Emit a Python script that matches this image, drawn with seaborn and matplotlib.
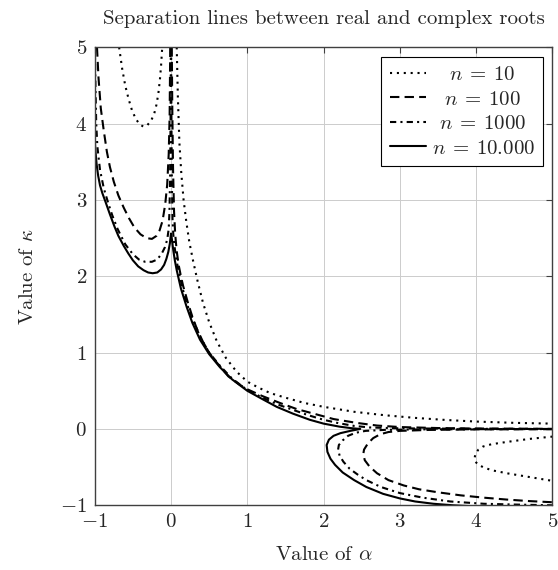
import numpy as np
import pandas as pd
import matplotlib
matplotlib.use("Agg")
import matplotlib.pyplot as plt
import seaborn as sns

# ---------------- data ----------------
# n = 10 (dotted)
n10_a_x = [-0.68, -0.64, -0.6, -0.555, -0.51, -0.46, -0.41, -0.36, -0.31, -0.26, -0.22, -0.19, -0.165, -0.145, -0.13, -0.115]
n10_a_y = [5.0, 4.72, 4.5, 4.32, 4.17, 4.06, 3.99, 3.96, 3.98, 4.04, 4.13, 4.25, 4.4, 4.58, 4.76, 5.0]
n10_b_x = [0.075, 0.09, 0.11, 0.135, 0.165, 0.2, 0.24, 0.29, 0.35, 0.42, 0.5, 0.6, 0.72, 0.86, 1.0, 1.15, 1.3,
           1.5, 1.75, 2.0, 2.4, 2.8, 3.2, 3.6, 4.0, 4.5, 5.0]
n10_b_y = [5.0, 4.35, 3.75, 3.35, 3.0, 2.72, 2.45, 2.2, 1.93, 1.65, 1.4, 1.15, 0.93, 0.75, 0.62, 0.54, 0.47,
           0.41, 0.34, 0.29, 0.225, 0.18, 0.145, 0.118, 0.097, 0.08, 0.07]
n10_c_x = [5.0, 4.7, 4.4, 4.2, 4.09, 4.03, 3.99, 3.98, 3.99, 4.03, 4.09, 4.2, 4.4, 4.7, 5.0]
n10_c_y = [-0.10, -0.13, -0.17, -0.2, -0.23, -0.27, -0.32, -0.38, -0.43, -0.47, -0.5, -0.54, -0.58, -0.63, -0.68]

# n = 100 (dashed)
n100_a_x = [-0.97, -0.95, -0.92, -0.88, -0.84, -0.8, -0.75, -0.69, -0.62, -0.55, -0.48, -0.4, -0.32, -0.25,
            -0.19, -0.15, -0.11, -0.075, -0.05, -0.03, -0.018, -0.01]
n100_a_y = [5.0, 4.6, 4.2, 3.9, 3.63, 3.43, 3.24, 3.06, 2.9, 2.76, 2.64, 2.55, 2.5, 2.49,
            2.53, 2.6, 2.73, 2.95, 3.2, 3.6, 4.1, 5.0]
n100_b_x = [0.01, 0.017, 0.027, 0.04, 0.055, 0.075, 0.1, 0.13, 0.16, 0.22, 0.28, 0.34, 0.42, 0.5, 0.6, 0.75,
            0.9, 1.0, 1.2, 1.43, 1.65, 1.91, 2.13, 2.43, 2.7, 3.0, 3.5, 4.0, 5.0]
n100_b_y = [5.0, 4.2, 3.4, 2.85, 2.55, 2.33, 2.15, 2.0, 1.87, 1.66, 1.47, 1.31, 1.14, 1.0, 0.87, 0.69,
            0.58, 0.52, 0.43, 0.34, 0.26, 0.19, 0.13, 0.08, 0.045, 0.025, 0.012, 0.006, 0.002]
n100_c_x = [5.0, 4.0, 3.4, 3.0, 2.85, 2.74, 2.65, 2.58, 2.53, 2.52, 2.54, 2.6, 2.7, 2.85, 3.05, 3.25, 3.5,
            3.8, 4.1, 4.4, 4.7, 5.0]
n100_c_y = [-0.003, -0.006, -0.012, -0.025, -0.04, -0.07, -0.12, -0.19, -0.27, -0.33, -0.41, -0.49, -0.58,
            -0.67, -0.74, -0.79, -0.83, -0.87, -0.9, -0.925, -0.945, -0.96]

# n = 1000 (dash-dotted)
n1000_a_x = [-0.998, -0.99, -0.98, -0.965, -0.93, -0.88, -0.82, -0.77, -0.7, -0.6, -0.5, -0.42, -0.34, -0.25,
             -0.18, -0.12, -0.08, -0.05, -0.03, -0.02, -0.012, -0.006, -0.002]
n1000_a_y = [5.0, 4.5, 4.0, 3.7, 3.39, 3.15, 2.95, 2.8, 2.62, 2.42, 2.29, 2.22, 2.19, 2.19,
             2.22, 2.3, 2.38, 2.48, 2.62, 2.85, 3.3, 4.0, 5.0]
n1000_b_x = [0.002, 0.006, 0.012, 0.02, 0.03, 0.045, 0.07, 0.1, 0.15, 0.2, 0.28, 0.38, 0.5, 0.64, 0.8, 1.0,
             1.2, 1.4, 1.6, 1.8, 2.0, 2.2, 2.4, 2.6, 3.0, 4.0, 5.0]
n1000_b_y = [5.0, 4.0, 3.2, 2.75, 2.55, 2.4, 2.22, 2.07, 1.85, 1.66, 1.45, 1.21, 1.0, 0.83, 0.66, 0.51,
             0.41, 0.32, 0.25, 0.18, 0.12, 0.075, 0.04, 0.02, 0.008, 0.002, 0.0]
n1000_c_x = [5.0, 4.0, 3.2, 2.8, 2.55, 2.42, 2.32, 2.25, 2.2, 2.19, 2.21, 2.26, 2.34, 2.45, 2.56, 2.75, 3.0,
             3.3, 3.66, 4.1, 4.5, 5.0]
n1000_c_y = [-0.001, -0.003, -0.006, -0.012, -0.025, -0.05, -0.09, -0.15, -0.21, -0.27, -0.35, -0.43, -0.52,
             -0.6, -0.67, -0.76, -0.84, -0.9, -0.95, -0.98, -0.99, -1.0]

# n = 10.000 (solid), one connected path
n10000_x = [-1.0, -0.99, -0.975, -0.955, -0.93, -0.9, -0.86, -0.8, -0.74, -0.69, -0.62, -0.56, -0.5, -0.43,
            -0.36, -0.3, -0.24, -0.18, -0.13, -0.09, -0.06, -0.035, -0.015, 0.0,
            0.01, 0.03, 0.05, 0.075, 0.13, 0.205, 0.28, 0.38, 0.5, 0.64, 0.8, 1.0, 1.2, 1.385, 1.6, 1.82,
            2.0, 2.21, 2.35, 2.48,
            2.35, 2.22, 2.13, 2.07, 2.04, 2.05, 2.09, 2.15, 2.25, 2.4, 2.56, 2.78, 3.0, 3.2, 3.44, 3.7, 3.9]
n10000_y = [3.8, 3.64, 3.47, 3.32, 3.19, 3.09, 2.98, 2.81, 2.65, 2.53, 2.4, 2.3, 2.21, 2.13,
            2.08, 2.05, 2.04, 2.05, 2.09, 2.15, 2.23, 2.32, 2.43, 2.56,
            2.5, 2.34, 2.21, 2.08, 1.84, 1.6, 1.39, 1.17, 0.98, 0.81, 0.65, 0.5, 0.39, 0.29, 0.2, 0.12,
            0.07, 0.03, 0.012, 0.0,
            -0.025, -0.055, -0.09, -0.14, -0.21, -0.3, -0.39, -0.47, -0.57, -0.67, -0.76, -0.85, -0.91, -0.95,
            -0.98, -1.0, -1.01]

series_labels = [r"$\enspace\;\,n\:=\:10$", r"$\enspace\,n\:=\:100$", r"$\:\,n\:=\:1000$", r"$n\:=\:10.000$"]
x_ticks = [-1, 0, 1, 2, 3, 4, 5]
y_ticks = [-1, 0, 1, 2, 3, 4, 5]
title_text = "Separation lines between real and complex roots"
x_label = r"Value of $\alpha$"
y_label = r"Value of $\kappa$"


def make_df(branches):
    frames = []
    for i, (bx, by) in enumerate(branches):
        frames.append(pd.DataFrame({"x": bx, "y": by, "branch": i}))
    return pd.concat(frames, ignore_index=True)


series = [
    (make_df([(n10_a_x, n10_a_y), (n10_b_x, n10_b_y), (n10_c_x, n10_c_y)]), (0, (1, 2.3))),
    (make_df([(n100_a_x, n100_a_y), (n100_b_x, n100_b_y), (n100_c_x, n100_c_y)]), (0, (4.5, 2.5))),
    (make_df([(n1000_a_x, n1000_a_y), (n1000_b_x, n1000_b_y), (n1000_c_x, n1000_c_y)]), (0, (3, 2, 1, 2))),
    (make_df([(n10000_x, n10000_y)]), "-"),
]

# ---------------- style ----------------
sns.set_theme(style="white")
plt.rcParams.update({
    "font.family": "serif",
    "font.serif": ["cmr10"],
    "mathtext.fontset": "cm",
    "axes.formatter.use_mathtext": True,
    "axes.unicode_minus": True,
})

FS = 15
fig = plt.figure(figsize=(5.58, 5.70), dpi=100)
ax = fig.add_axes([0.16971, 0.11351, 0.82043, 0.80351])

handles = []
for df, ls in series:
    n_before = len(ax.lines)
    sns.lineplot(data=df, x="x", y="y", units="branch", estimator=None, sort=False,
                 color="black", linewidth=1.5, linestyle=ls, ax=ax, legend=False)
    handles.append(ax.lines[n_before])

ax.set_xlim(-1, 5)
ax.set_ylim(-1, 5)
ax.set_xticks(x_ticks)
ax.set_yticks(y_ticks)
ax.grid(True, color="#cccccc", linewidth=0.7)
ax.set_axisbelow(True)
for sp in ax.spines.values():
    sp.set_color("#404040")
    sp.set_linewidth(1.0)
ax.tick_params(direction="in", length=4, width=0.8, color="#404040", top=True, right=True,
               labelsize=FS, pad=5.5)

ax.set_title(title_text, fontsize=FS, pad=17)
ax.set_xlabel(x_label, fontsize=FS, labelpad=11)
ax.set_ylabel(y_label, fontsize=FS, labelpad=17)

leg = ax.legend(handles, series_labels, loc="upper right", bbox_to_anchor=(0.980, 0.978),
                borderaxespad=0, fontsize=FS, frameon=True, fancybox=False, framealpha=1,
                edgecolor="black", handlelength=1.72, handletextpad=0.3, borderpad=0.4,
                labelspacing=0.28)
leg.get_frame().set_linewidth(0.8)

fig.savefig("out.png", dpi=100)
